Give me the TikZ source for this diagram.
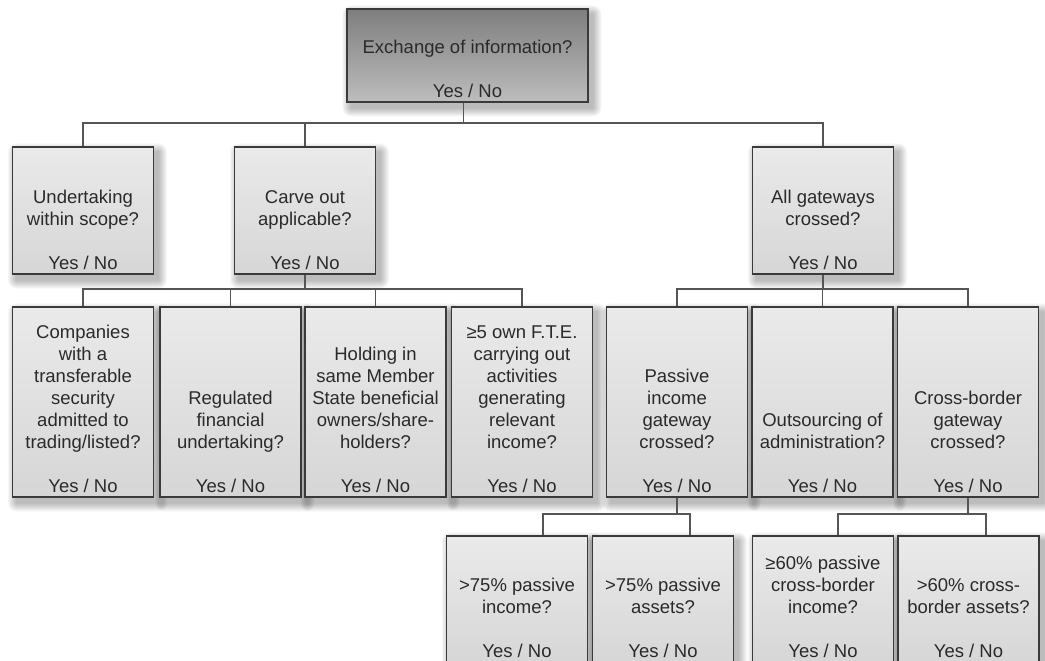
\documentclass[tikz,border=0pt]{standalone}
\usepackage{fontspec}
\setmainfont{Liberation Sans}
\usetikzlibrary{calc}
\pgfdeclarelayer{bg}
\pgfdeclarelayer{background}
\pgfsetlayers{bg,background,main}
\definecolor{boxtop}{HTML}{EAEAEA}
\definecolor{boxbot}{HTML}{D6D6D6}
\definecolor{headtop}{HTML}{7E7E7E}
\definecolor{headbot}{HTML}{BDBDBD}
\definecolor{edge}{HTML}{3A3A3A}
\definecolor{txt}{HTML}{2A2A2A}
\definecolor{connc}{HTML}{555555}
\newcommand{\qtext}[4][4pt]{\parbox[c][#2][b]{#3}{\centering #4\par\vskip #1}}
\newcommand{\shd}[1]{%
  \foreach \s in {1,...,9}{%
    \fill[shadowlayer, rounded corners=\s pt] ($(#1.north west)+(5-\s,6-\s)$) rectangle ($(#1.south east)+(4+\s,5+\s)$);}}
\tikzset{
  qbox/.style={draw=edge, line width=1.3pt, inner sep=0pt, top color=boxtop, bottom color=boxbot,
    minimum width=141pt, text=txt, font=\fontsize{18.5}{22}\selectfont},
  headbox/.style={qbox, top color=headtop, bottom color=headbot, minimum width=241pt},
  conn/.style={draw=connc, line width=1.5pt},
  shadowlayer/.style={black, opacity=0.032}
}
\begin{document}
\begin{tikzpicture}[x=1pt,y=-1pt]
\clip (0,0) rectangle (1045,661);
\begin{pgfonlayer}{bg}
\fill[white] (0,0) rectangle (1045,661);
\end{pgfonlayer}
% top
\node[headbox, minimum height=93pt] (top) at (467.5,55.5)
  {\qtext{93pt}{230pt}{Exchange of information?\\[22pt]Yes / No}};
% row 2
\node[qbox, minimum height=127pt] (r2a) at (83,210.5)
  {\qtext{127pt}{136pt}{Undertaking\\within scope?\\[22pt]Yes / No}};
\node[qbox, minimum height=127pt] (r2b) at (305,210.5)
  {\qtext{127pt}{136pt}{Carve out\\applicable?\\[22pt]Yes / No}};
\node[qbox, minimum height=127pt] (r2c) at (823,210.5)
  {\qtext{127pt}{136pt}{All gateways\\crossed?\\[22pt]Yes / No}};
% row 3
\node[qbox, minimum height=190pt] (r3a) at (83,402)
  {\qtext{190pt}{138pt}{Companies\\with a\\transferable\\security\\admitted to\\trading/listed?\\[22pt]Yes / No}};
\node[qbox, minimum height=190pt] (r3b) at (230.5,402)
  {\qtext{190pt}{138pt}{Regulated\\financial\\undertaking?\\[22pt]Yes / No}};
\node[qbox, minimum height=190pt] (r3c) at (375.5,402)
  {\qtext{190pt}{138pt}{Holding in\\same Member\\State beneficial\\owners/share-\\holders?\\[22pt]Yes / No}};
\node[qbox, minimum height=190pt] (r3d) at (522,402)
  {\qtext{190pt}{138pt}{≥5 own F.T.E.\\carrying out\\activities\\generating\\relevant\\income?\\[22pt]Yes / No}};
\node[qbox, minimum height=190pt] (r3e) at (677,402)
  {\qtext{190pt}{138pt}{Passive\\income\\gateway\\crossed?\\[22pt]Yes / No}};
\node[qbox, minimum height=190pt] (r3f) at (822.5,402)
  {\qtext{190pt}{138pt}{Outsourcing of\\administration?\\[22pt]Yes / No}};
\node[qbox, minimum height=190pt] (r3g) at (968,402)
  {\qtext{190pt}{138pt}{Cross-border\\gateway\\crossed?\\[22pt]Yes / No}};
% row 4
\node[qbox, minimum height=129pt] (r4a) at (517,600.5)
  {\qtext[7pt]{129pt}{138pt}{>75\% passive\\income?\\[22pt]Yes / No}};
\node[qbox, minimum height=129pt] (r4b) at (663,600.5)
  {\qtext[7pt]{129pt}{138pt}{>75\% passive\\assets?\\[22pt]Yes / No}};
\node[qbox, minimum height=129pt] (r4c) at (823,600.5)
  {\qtext[7pt]{129pt}{138pt}{≥60\% passive\\cross-border\\income?\\[22pt]Yes / No}};
\node[qbox, minimum height=129pt] (r4d) at (968.5,600.5)
  {\qtext[7pt]{129pt}{138pt}{>60\% cross-\\border assets?\\[22pt]Yes / No}};
% soft shadows
\begin{pgfonlayer}{background}
\foreach \n in {top,r2a,r2b,r2c,r3a,r3b,r3c,r3d,r3e,r3f,r3g,r4a,r4b,r4c,r4d}{\shd{\n}}
\end{pgfonlayer}
% buses
\coordinate (bus1) at (0,123);
\coordinate (bus2) at (0,289);
\coordinate (bus3) at (0,514);
% connectors
\coordinate (ptop) at ($(top.south)+(-4,0)$);
\draw[conn] (ptop) -- (ptop |- bus1);
\draw[conn] (r2a.north) -- (r2a.north |- bus1) -- (r2c.north |- bus1) -- (r2c.north);
\draw[conn] (r2b.north) -- (r2b.north |- bus1);
\draw[conn] (r2b.south) -- (r2b.south |- bus2);
\draw[conn] (r3a.north) -- (r3a.north |- bus2) -- (r3d.north |- bus2) -- (r3d.north);
\draw[conn] (r3b.north) -- (r3b.north |- bus2);
\draw[conn] (r3c.north) -- (r3c.north |- bus2);
\draw[conn] (r2c.south) -- (r2c.south |- bus2);
\draw[conn] (r3e.north) -- (r3e.north |- bus2) -- (r3g.north |- bus2) -- (r3g.north);
\draw[conn] (r3f.north) -- (r3f.north |- bus2);
\coordinate (p4a) at ($(r4a.north)+(26,0)$);
\coordinate (p4b) at ($(r4b.north)+(27,0)$);
\coordinate (p4c) at ($(r4c.north)+(15,0)$);
\coordinate (p4d) at ($(r4d.north)+(17.5,0)$);
\draw[conn] (r3e.south) -- (r3e.south |- bus3);
\draw[conn] (p4a) -- (p4a |- bus3) -- (p4b |- bus3) -- (p4b);
\draw[conn] (r3g.south) -- (r3g.south |- bus3);
\draw[conn] (p4c) -- (p4c |- bus3) -- (p4d |- bus3) -- (p4d);
\end{tikzpicture}
\end{document}
